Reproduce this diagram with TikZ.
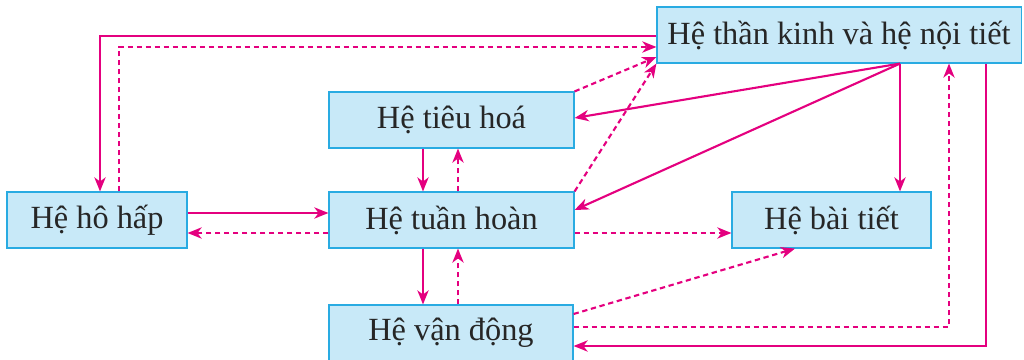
\documentclass[tikz,border=0pt]{standalone}
\usepackage{fontspec}
\setmainfont{Liberation Serif}
\usetikzlibrary{arrows.meta}
\definecolor{linkpink}{HTML}{E4007F}
\definecolor{boxfill}{HTML}{C8E9F8}
\definecolor{boxline}{HTML}{29ABE2}
\begin{document}
\begin{tikzpicture}[x=0.025cm, y=-0.025cm,
    organ/.style={draw=boxline, fill=boxfill, line width=0.8pt, inner sep=0pt,
        minimum height=1.4cm, text=black!85, font=\fontsize{23}{27}\selectfont}]
                \useasboundingbox (0,0) rectangle (1024,360);
                \node[organ, minimum width=9.1cm] (ntk) at (839,35) {Hệ thần kinh và hệ nội tiết};
                \node[organ, minimum width=6.125cm] (th) at (451.5,120) {Hệ tiêu hoá};
                \node[organ, minimum width=4.5cm] (hh) at (97,220) {Hệ hô hấp};
                \node[organ, minimum width=6.125cm] (tuh) at (451.5,220) {Hệ tuần hoàn};
                \node[organ, minimum width=4.975cm] (bt) at (831.5,220) {Hệ bài tiết};
                \node[organ, minimum width=6.1cm] (vd) at (451,333) {Hệ vận động};
                \begin{scope}[linkpink, line width=1.5pt, line join=miter,
                        -{Stealth[length=10pt, width=8pt, inset=3pt]},
                        back/.style={dash pattern=on 3.8pt off 2.6pt}
                    ]
                    \draw (ntk.west |- 0,36) -| (hh.north -| 100,0);
                    \draw[back] (hh.north -| 119,0) |- (ntk.west |- 0,47);
                    \draw[back] (th.north east) -- (ntk.west |- 0,57);
                    \draw[back] (tuh.north east) -- (ntk.south west);
                    \draw (ntk.south -| 900,0) -- (th.east |- 0,118);
                    \draw (ntk.south -| 900,0) -- (tuh.east |- 0,210);
                    \draw (ntk.south -| 900,0) -- (bt.north -| 900,0);
                    \draw[back] (vd.east |- 0,327) -| (ntk.south -| 949,0);
                    \draw (ntk.south -| 986,0) |- (vd.east |- 0,346);
                    \draw (hh.east |- 0,213) -- (tuh.west |- 0,213);
                    \draw[back] (tuh.west |- 0,233) -- (hh.east |- 0,233);
                    \draw (th.south -| 423,0) -- (tuh.north -| 423,0);
                    \draw[back] (tuh.north -| 458,0) -- (th.south -| 458,0);
                    \draw (tuh.south -| 423,0) -- (vd.north -| 423,0);
                    \draw[back] (vd.north -| 458,0) -- (tuh.south -| 458,0);
                    \draw[back] (tuh.east |- 0,233) -- (bt.west |- 0,233);
                    \draw[back] (vd.east |- 0,314) -- (bt.south -| 795,0);
                \end{scope}
            \end{tikzpicture}
\end{document}
